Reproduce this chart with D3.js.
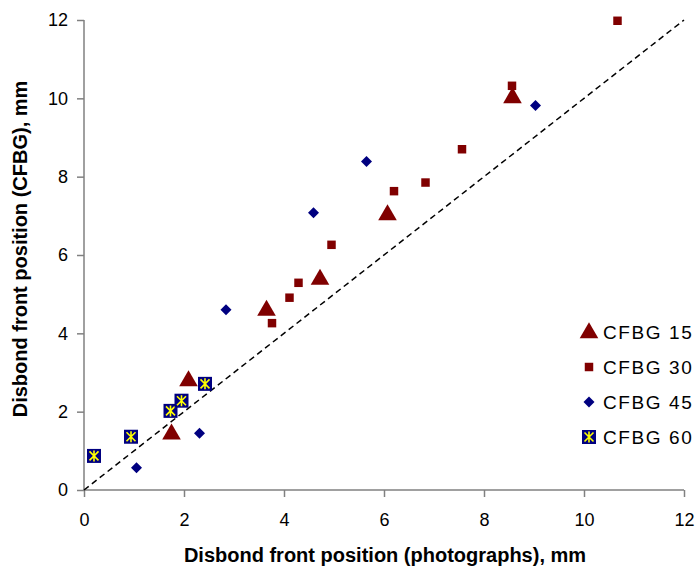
<!DOCTYPE html>
<html>
<head>
<meta charset="utf-8">
<script src="https://cdn.jsdelivr.net/npm/d3@7"></script>
<style>
body { margin: 0; background: #fff; }
text { font-family: "Liberation Sans", Arial, sans-serif; }
</style>
</head>
<body>
<div id="graph"></div>
<script>
// values (mm)
var x15 = [1.75, 2.09, 3.65, 4.72, 6.07, 8.57]
var y15 = [1.45, 2.81, 4.61, 5.40, 7.05, 10.04]
var x30 = [3.76, 4.11, 4.29, 4.95, 6.20, 6.83, 7.56, 8.56, 10.67]
var y30 = [4.26, 4.91, 5.29, 6.26, 7.63, 7.85, 8.70, 10.32, 11.98]
var x45 = [1.05, 2.31, 2.84, 4.59, 5.65, 9.03]
var y45 = [0.57, 1.45, 4.60, 7.08, 8.39, 9.82]
var x60 = [0.20, 0.94, 1.73, 1.95, 2.42]
var y60 = [0.87, 1.36, 2.02, 2.28, 2.71]
var xTicks = [0, 2, 4, 6, 8, 10, 12]
var yTicks = [0, 2, 4, 6, 8, 10, 12]
var seriesNames = ["CFBG 15", "CFBG 30", "CFBG 45", "CFBG 60"]

var red = "#800000", navy = "#000080"

var svg = d3.select("#graph")
    .append("svg")
        .attr("width", 700)
        .attr("height", 573)

var x = d3.scaleLinear().domain([0, 12]).range([84, 684])
var y = d3.scaleLinear().domain([0, 12]).range([490, 20])

// axes
var xAxis = svg.append("g")
    .attr("transform", "translate(0,490)")
    .call(d3.axisBottom(x).tickValues(xTicks).tickSize(7).tickPadding(16))
var yAxis = svg.append("g")
    .attr("transform", "translate(84,0)")
    .call(d3.axisLeft(y).tickValues(yTicks).tickSize(7).tickPadding(9))
svg.selectAll(".domain, .tick line").attr("stroke", "#808080").attr("stroke-width", 1.5)
svg.selectAll(".tick text").attr("font-size", 18).attr("fill", "#000")
    .style("font-family", "'Liberation Sans', Arial, sans-serif")
xAxis.select(".domain").attr("d", "M84,0H684")
yAxis.select(".domain").attr("d", "M0,490V20")

// 1:1 line
svg.append("line")
    .attr("x1", x(0)).attr("y1", y(0))
    .attr("x2", x(12)).attr("y2", y(12))
    .attr("stroke", "#000")
    .attr("stroke-width", 1.5)
    .attr("stroke-dasharray", "6,4")

function zip(a, b) { return a.map(function(v, i) { return [v, b[i]] }) }

var tri = d3.symbol().type(d3.symbolTriangle).size(150)
var sq = d3.symbol().type(d3.symbolSquare).size(72)

function drawTri(g) {
    g.append("path").attr("d", tri).attr("fill", red).attr("transform", "translate(0,1)")
}
function drawSq(g) {
    g.append("path").attr("d", sq).attr("fill", red)
}
function drawDia(g) {
    g.append("path").attr("d", "M0,-5.5L5.5,0L0,5.5L-5.5,0Z").attr("fill", navy)
}
function drawStar(g) {
    g.append("rect").attr("x", -7).attr("y", -7).attr("width", 14).attr("height", 14).attr("fill", navy)
    g.append("path").attr("d", "M-4.5,-4.5L4.5,4.5M-4.5,4.5L4.5,-4.5M0,-5.5V5.5")
        .attr("stroke", "#ffff00").attr("stroke-width", 1.6)
}

var series = [[zip(x15, y15), drawTri], [zip(x30, y30), drawSq], [zip(x45, y45), drawDia], [zip(x60, y60), drawStar]]

series.forEach(function(s) {
    svg.append("g").selectAll("g")
        .data(s[0])
        .enter().append("g")
            .attr("transform", function(d) { return "translate(" + x(d[0]) + "," + y(d[1]) + ")" })
            .each(function() { s[1](d3.select(this)) })
})

// legend
var legend = svg.append("g").selectAll("g")
    .data(seriesNames)
    .enter().append("g")
        .attr("transform", function(d, i) { return "translate(589," + (332 + i * 35) + ")" })
legend.each(function(d, i) { series[i][1](d3.select(this)) })
legend.append("text")
    .attr("x", 14)
    .attr("dy", "0.35em")
    .attr("font-size", 19)
    .attr("letter-spacing", 1.6)
    .text(function(d) { return d })

// axis titles
svg.append("text")
    .attr("x", 385).attr("y", 562)
    .attr("text-anchor", "middle")
    .attr("font-size", 20).attr("font-weight", "bold")
    .text("Disbond front position (photographs), mm")
svg.append("text")
    .attr("transform", "translate(27,249) rotate(-90)")
    .attr("text-anchor", "middle")
    .attr("font-size", 20).attr("font-weight", "bold")
    .text("Disbond front position (CFBG), mm")
</script>
</body>
</html>
